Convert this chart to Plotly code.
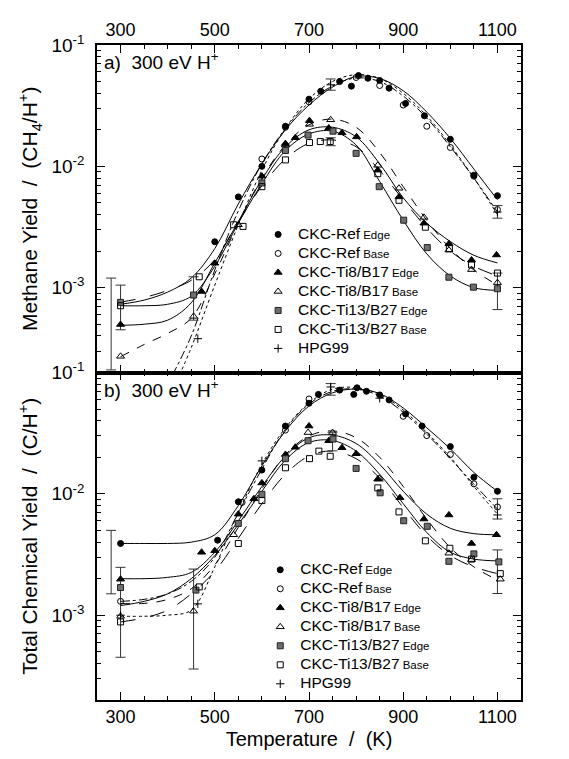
import plotly.graph_objects as go
import numpy as np

# ---------------- data: panel a (methane yield) ----------------
a_refE_T = [500, 550, 600, 650, 700, 725, 765, 790, 805, 825, 850, 870, 905, 945, 1000, 1050, 1100]
a_refE_v = [2.39e-3, 5.6e-3, 1.0e-2, 2.14e-2, 3.58e-2, 4.16e-2, 5.0e-2, 4.58e-2, 5.6e-2, 5.32e-2, 5.1e-2, 4.41e-2, 3.3e-2, 2.61e-2, 1.67e-2, 8.45e-3, 5.73e-3]
a_refB_T = [600, 650, 700, 800, 850, 900, 950, 1000, 1050, 1100]
a_refB_v = [1.15e-2, 2.1e-2, 3.4e-2, 5.4e-2, 4.64e-2, 3.2e-2, 2.14e-2, 1.43e-2, 8.3e-3, 4.4e-3]
a_ti8E_T = [300, 472, 500, 600, 650, 671, 701, 742, 770, 801, 846, 891, 944, 997, 1045, 1098]
a_ti8E_v = [4.97e-4, 9.3e-4, 1.59e-3, 8.3e-3, 1.54e-2, 1.72e-2, 2.38e-2, 2.07e-2, 1.89e-2, 1.75e-2, 9.3e-3, 5.6e-3, 3.4e-3, 2.3e-3, 1.69e-3, 1.86e-3]
a_ti8B_T = [300, 455, 550, 650, 701, 746, 846, 891, 944, 997, 1045, 1100]
a_ti8B_v = [2.72e-4, 5.8e-4, 3.3e-3, 1.5e-2, 2.22e-2, 2.42e-2, 1.02e-2, 6.6e-3, 3.8e-3, 2.04e-3, 1.41e-3, 1.1e-3]
a_ti13E_T = [300, 455, 600, 650, 698, 751, 800, 849, 901, 951, 997, 1049, 1100]
a_ti13E_v = [7.57e-4, 8.7e-4, 7.3e-3, 1.35e-2, 1.81e-2, 1.95e-2, 1.28e-2, 6.8e-3, 3.6e-3, 2.14e-3, 1.22e-3, 1.01e-3, 9.8e-4]
a_ti13B_T = [300, 467, 540, 560, 600, 650, 701, 724, 745, 846, 891, 947, 998, 1045, 1100]
a_ti13B_v = [7.1e-4, 1.23e-3, 3.3e-3, 3.2e-3, 6.8e-3, 1.13e-2, 1.57e-2, 1.6e-2, 1.6e-2, 8.7e-3, 5.25e-3, 3.15e-3, 2.1e-3, 1.54e-3, 1.32e-3]
a_hpg_T = [464, 746, 1100]
a_hpg_v = [3.8e-4, 4.7e-2, 4.2e-3]

# fitted curves, panel a
curve_T = [300, 350, 400, 450, 500, 550, 600, 650, 700, 750, 800, 850, 900, 950, 1000, 1050, 1100]
a_refE_c = [7.3e-4, 7.9e-4, 9.2e-4, 1.2e-3, 2.1e-3, 4.9e-3, 1.05e-2, 2.0e-2, 3.2e-2, 4.5e-2, 5.5e-2, 5.3e-2, 4.2e-2, 2.8e-2, 1.7e-2, 9.5e-3, 5.3e-3]
a_ti8E_c = [4.9e-4, 5.0e-4, 5.4e-4, 7.5e-4, 1.6e-3, 3.5e-3, 7.8e-3, 1.45e-2, 2.0e-2, 2.1e-2, 1.75e-2, 1.05e-2, 5.5e-3, 3.4e-3, 2.4e-3, 1.85e-3, 1.6e-3]
a_ti8B_c = [2.7e-4, 3.4e-4, 4.2e-4, 5.6e-4, 1.3e-3, 3.4e-3, 8.0e-3, 1.5e-2, 2.2e-2, 2.45e-2, 2.1e-2, 1.3e-2, 6.8e-3, 3.6e-3, 2.1e-3, 1.4e-3, 1.05e-3]
a_ti13E_c = [7.1e-4, 7.1e-4, 7.3e-4, 8.5e-4, 1.5e-3, 3.4e-3, 7.2e-3, 1.35e-2, 1.85e-2, 1.95e-2, 1.5e-2, 7.5e-3, 3.6e-3, 1.9e-3, 1.25e-3, 1.0e-3, 9.5e-4]
a_ti13B_c = [7.6e-4, 8.3e-4, 9.5e-4, 1.15e-3, 1.7e-3, 3.5e-3, 6.9e-3, 1.15e-2, 1.55e-2, 1.65e-2, 1.45e-2, 9.2e-3, 5.3e-3, 3.1e-3, 2.0e-3, 1.5e-3, 1.25e-3]
a_refB_cT = [410, 450, 500, 550, 600, 650, 700, 750, 800, 850, 900, 950, 1000, 1050, 1100]
a_refB_c = [1.9e-4, 4.0e-4, 1.4e-3, 4.3e-3, 1.05e-2, 2.05e-2, 3.35e-2, 4.6e-2, 5.35e-2, 5.0e-2, 3.8e-2, 2.5e-2, 1.45e-2, 8.0e-3, 4.2e-3]
a_hpg_cT = [425, 450, 500, 550, 600, 650, 700, 750, 800, 850, 900, 950, 1000, 1050, 1100]
a_hpg_c = [1.9e-4, 3.2e-4, 1.05e-3, 3.3e-3, 9.3e-3, 2.05e-2, 3.6e-2, 5.0e-2, 5.7e-2, 5.3e-2, 4.0e-2, 2.6e-2, 1.5e-2, 8.0e-3, 4.0e-3]

# error bars, panel a
a_eb_T = [280, 300, 455, 746, 746, 1100, 1100]
a_eb_lo = [2.1e-4, 4.5e-4, 5.4e-4, 4.24e-2, 1.48e-2, 3.74e-3, 6.6e-4]
a_eb_hi = [1.2e-3, 1.05e-3, 1.23e-3, 5.25e-2, 1.72e-2, 4.75e-3, 1.32e-3]

# ---------------- data: panel b (total chemical yield) ----------------
b_refE_T = [300, 506, 550, 600, 650, 700, 720, 765, 795, 802, 822, 850, 870, 905, 940, 1000, 1050, 1100]
b_refE_v = [3.9e-3, 4.15e-3, 8.6e-3, 1.57e-2, 3.62e-2, 5.58e-2, 6.6e-2, 7.16e-2, 6.6e-2, 7.48e-2, 7.0e-2, 6.53e-2, 5.94e-2, 4.56e-2, 3.62e-2, 2.45e-2, 1.37e-2, 1.05e-2]
b_refB_T = [300, 558, 650, 700, 900, 950, 1000, 1050, 1100]
b_refB_v = [1.3e-3, 8.5e-3, 3.35e-2, 6.05e-2, 4.36e-2, 3.02e-2, 2.11e-2, 1.21e-2, 7.8e-3]
b_ti8E_T = [300, 472, 500, 550, 583, 600, 650, 671, 700, 742, 770, 800, 846, 893, 944, 997, 1045, 1098]
b_ti8E_v = [1.98e-3, 3.3e-3, 3.4e-3, 6.8e-3, 9.1e-3, 1.23e-2, 2.11e-2, 2.42e-2, 3.62e-2, 2.74e-2, 2.4e-2, 2.14e-2, 1.32e-2, 9.3e-3, 6.2e-3, 6.7e-3, 3.9e-3, 4.6e-3]
b_ti8B_T = [300, 455, 540, 698, 750, 849, 997, 1045, 1106]
b_ti8B_v = [9.8e-4, 1.08e-3, 4.6e-3, 3.2e-2, 3.2e-2, 1.34e-2, 3.24e-3, 2.87e-3, 1.98e-3]
b_ti13E_T = [300, 460, 550, 600, 650, 698, 751, 800, 851, 901, 951, 997, 1050, 1103]
b_ti13E_v = [1.69e-3, 1.61e-3, 5.7e-3, 9.9e-3, 1.95e-2, 2.74e-2, 2.83e-2, 1.62e-2, 1.02e-2, 6.0e-3, 5.4e-3, 2.78e-3, 3.2e-3, 2.75e-3]
b_ti13B_T = [300, 467, 550, 600, 650, 701, 721, 745, 846, 891, 947, 999, 1045, 1106]
b_ti13B_v = [8.8e-4, 1.71e-3, 3.9e-3, 8.8e-3, 1.64e-2, 1.95e-2, 2.25e-2, 2.04e-2, 1.12e-2, 7.1e-3, 4.1e-3, 3.56e-3, 2.9e-3, 2.2e-3]
b_hpg_T = [300, 464, 600, 746, 850, 1100]
b_hpg_v = [1.0e-3, 1.24e-3, 1.87e-2, 7.6e-2, 6.14e-2, 6.7e-3]

# fitted curves, panel b
b_refE_c = [3.9e-3, 3.9e-3, 3.9e-3, 4.0e-3, 4.6e-3, 8.0e-3, 1.7e-2, 3.3e-2, 5.3e-2, 6.8e-2, 7.3e-2, 6.7e-2, 5.1e-2, 3.5e-2, 2.35e-2, 1.5e-2, 1.05e-2]
b_refB_c = [1.3e-3, 1.35e-3, 1.5e-3, 1.9e-3, 3.0e-3, 7.0e-3, 1.6e-2, 3.4e-2, 5.5e-2, 7.0e-2, 7.3e-2, 6.4e-2, 4.7e-2, 3.1e-2, 1.95e-2, 1.2e-2, 7.5e-3]
b_ti8E_c = [2.0e-3, 2.0e-3, 2.05e-3, 2.25e-3, 3.3e-3, 6.0e-3, 1.15e-2, 2.05e-2, 2.9e-2, 3.05e-2, 2.6e-2, 1.75e-2, 1.05e-2, 6.8e-3, 5.2e-3, 4.7e-3, 4.6e-3]
b_ti8B_c = [1.25e-3, 1.25e-3, 1.35e-3, 1.65e-3, 2.6e-3, 5.3e-3, 1.1e-2, 2.1e-2, 3.0e-2, 3.3e-2, 2.9e-2, 2.0e-2, 1.15e-2, 6.2e-3, 3.6e-3, 2.5e-3, 1.95e-3]
b_ti13E_c = [1.2e-3, 1.3e-3, 1.5e-3, 2.0e-3, 3.1e-3, 5.6e-3, 1.05e-2, 1.9e-2, 2.65e-2, 2.75e-2, 2.25e-2, 1.45e-2, 8.3e-3, 4.8e-3, 3.3e-3, 2.9e-3, 2.8e-3]
b_ti13B_c = [8.8e-4, 9.5e-4, 1.1e-3, 1.5e-3, 2.3e-3, 4.3e-3, 8.3e-3, 1.45e-2, 2.05e-2, 2.25e-2, 1.95e-2, 1.35e-2, 7.7e-3, 4.5e-3, 3.1e-3, 2.5e-3, 2.2e-3]
b_hpg_c = [9.8e-4, 9.8e-4, 1.0e-3, 1.1e-3, 2.5e-3, 7.0e-3, 1.75e-2, 3.5e-2, 5.6e-2, 7.3e-2, 7.5e-2, 6.6e-2, 4.9e-2, 3.2e-2, 2.0e-2, 1.15e-2, 6.8e-3]

b_eb_T = [280, 300, 455, 746, 750, 1100, 1100]
b_eb_lo = [1.5e-3, 4.5e-4, 3.6e-4, 6.5e-2, 2.26e-2, 6.2e-3, 1.51e-3]
b_eb_hi = [5.0e-3, 2.48e-3, 2.4e-3, 8.1e-2, 3.22e-2, 9.1e-3, 3.45e-3]

x_ticks = [300, 500, 700, 900, 1100]
y_ticks = [1e-3, 1e-2, 1e-1]
y_ticktext = ["10<sup>-3</sup>", "10<sup>-2</sup>", "10<sup>-1</sup>"]

def nm(main, sub=None):
    s = "<span style='font-size:15.5px'>" + main + "</span>"
    if sub:
        s += " <span style='font-size:11.5px'>" + sub + "</span>"
    return s

names = [
    nm("CKC-Ref", "Edge"),
    nm("CKC-Ref", "Base"),
    nm("CKC-Ti8/B17", "Edge"),
    nm("CKC-Ti8/B17", "Base"),
    nm("CKC-Ti13/B27", "Edge"),
    nm("CKC-Ti13/B27", "Base"),
    nm("HPG99"),
]

FONT = "Liberation Sans, Arial, Helvetica, sans-serif"
marker_styles = [
    dict(symbol="circle", size=6, color="black", line=dict(color="black", width=1)),
    dict(symbol="circle-open", size=6, color="black", line=dict(color="black", width=1)),
    dict(symbol="triangle-up", size=7, color="black", line=dict(color="black", width=1)),
    dict(symbol="triangle-up-open", size=7, color="black", line=dict(color="black", width=1)),
    dict(symbol="square", size=6, color="#6e6e6e", line=dict(color="#222", width=1)),
    dict(symbol="square-open", size=6, color="black", line=dict(color="black", width=1)),
    dict(symbol="cross-thin-open", size=6, color="black", line=dict(color="black", width=1)),
]

fig = go.Figure()

def add_panel(xa, ya, legend, pts, curves, eb):
    for (cT, cv, dash) in curves:
        fig.add_trace(go.Scatter(x=cT, y=cv, mode="lines", xaxis=xa, yaxis=ya,
                                 line=dict(color="black", width=1, dash=dash, shape="spline", smoothing=1.0),
                                 showlegend=False, hoverinfo="skip"))
    T, lo, hi = eb
    lo = np.array(lo); hi = np.array(hi)
    c = np.sqrt(lo * hi)
    fig.add_trace(go.Scatter(x=T, y=c, mode="markers", xaxis=xa, yaxis=ya,
                             marker=dict(size=1, opacity=0),
                             error_y=dict(type="data", symmetric=False, array=hi - c, arrayminus=c - lo,
                                          color="#333", thickness=1, width=5),
                             showlegend=False, hoverinfo="skip"))
    for i, (pT, pv) in enumerate(pts):
        fig.add_trace(go.Scatter(x=pT, y=pv, mode="markers", xaxis=xa, yaxis=ya,
                                 marker=marker_styles[i], name=names[i], legend=legend,
                                 showlegend=True))

add_panel("x", "y", "legend",
          [(a_refE_T, a_refE_v), (a_refB_T, a_refB_v), (a_ti8E_T, a_ti8E_v), (a_ti8B_T, a_ti8B_v),
           (a_ti13E_T, a_ti13E_v), (a_ti13B_T, a_ti13B_v), (a_hpg_T, a_hpg_v)],
          [(curve_T, a_refE_c, "solid"), (a_refB_cT, a_refB_c, "dashdot"),
           (curve_T, a_ti8E_c, "solid"), (curve_T, a_ti8B_c, "dash"),
           (curve_T, a_ti13E_c, "solid"), (curve_T, a_ti13B_c, "longdash"),
           (a_hpg_cT, a_hpg_c, "dot")],
          (a_eb_T, a_eb_lo, a_eb_hi))

add_panel("x2", "y2", "legend2",
          [(b_refE_T, b_refE_v), (b_refB_T, b_refB_v), (b_ti8E_T, b_ti8E_v), (b_ti8B_T, b_ti8B_v),
           (b_ti13E_T, b_ti13E_v), (b_ti13B_T, b_ti13B_v), (b_hpg_T, b_hpg_v)],
          [(curve_T, b_refE_c, "solid"), (curve_T, b_refB_c, "dashdot"),
           (curve_T, b_ti8E_c, "solid"), (curve_T, b_ti8B_c, "dash"),
           (curve_T, b_ti13E_c, "solid"), (curve_T, b_ti13B_c, "longdash"),
           (curve_T, b_hpg_c, "dot")],
          (b_eb_T, b_eb_lo, b_eb_hi))

minor_y = [m * 10.0 ** e for e in (-4, -3, -2) for m in range(2, 10)]

xcommon = dict(range=[250, 1150], tickvals=x_ticks, ticks="inside", ticklen=8, tickwidth=1,
               tickcolor="black", showline=True, linecolor="black", linewidth=1.5,
               mirror="allticks", showgrid=False, zeroline=False,
               minor=dict(tick0=300, dtick=50, ticks="inside", ticklen=4, tickcolor="black", showgrid=False),
               tickfont=dict(family=FONT, size=18, color="black"))
ycommon = dict(type="log", range=[np.log10(2e-4), -1], tickvals=y_ticks, ticktext=y_ticktext,
               ticks="inside", ticklen=8, tickwidth=1, tickcolor="black", showline=True,
               linecolor="black", linewidth=1.5, mirror="allticks", showgrid=False, zeroline=False,
               minor=dict(tickvals=minor_y, ticks="inside", ticklen=4, tickcolor="black", showgrid=False),
               tickfont=dict(family=FONT, size=19, color="black"), ticklabelstandoff=7)

fig.update_layout(
    width=561, height=751,
    margin=dict(l=89, r=48, t=24, b=57),
    paper_bgcolor="white", plot_bgcolor="white",
    font=dict(family=FONT, color="black"),
    xaxis=dict(**xcommon, side="top", anchor="y", matches="x2"),
    yaxis=dict(**ycommon, domain=[0.5, 1.0], anchor="x",
               title=dict(text="Methane Yield  /  (CH<sub>4</sub>/H<sup>+</sup>)",
                          font=dict(family=FONT, size=21, color="black"), standoff=8)),
    xaxis2=dict(**xcommon, side="bottom", anchor="y2",
                title=dict(text="Temperature  /  (K)", font=dict(family=FONT, size=20, color="black"),
                           standoff=6)),
    yaxis2=dict(**ycommon, domain=[0.0, 0.5], anchor="x2",
                title=dict(text="Total Chemical Yield  /  (C/H<sup>+</sup>)",
                           font=dict(family=FONT, size=21, color="black"), standoff=8)),
    legend=dict(x=0.38, y=0.7329, xanchor="left", yanchor="top", bgcolor="rgba(0,0,0,0)",
                font=dict(family=FONT, size=11, color="black"), itemwidth=30, tracegroupgap=0),
    legend2=dict(x=0.385, y=0.2209, xanchor="left", yanchor="top", bgcolor="rgba(0,0,0,0)",
                 font=dict(family=FONT, size=11, color="black"), itemwidth=30, tracegroupgap=0),
    annotations=[
        dict(text="a)  300 eV H<sup>+</sup>", x=0.012, y=0.975, xref="paper", yref="paper",
             xanchor="left", yanchor="middle", showarrow=False,
             font=dict(family=FONT, size=19, color="black")),
        dict(text="b)  300 eV H<sup>+</sup>", x=0.012, y=0.4746, xref="paper", yref="paper",
             xanchor="left", yanchor="middle", showarrow=False,
             font=dict(family=FONT, size=19, color="black")),
    ],
)

fig.write_html("out.html")
